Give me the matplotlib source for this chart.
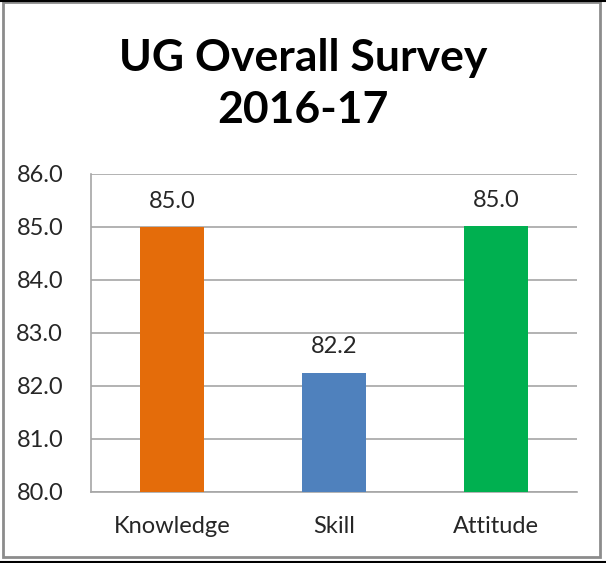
import matplotlib
matplotlib.use("Agg")
import matplotlib.pyplot as plt
from matplotlib.patches import Rectangle

categories = ["Knowledge", "Skill", "Attitude"]
values = [85.0, 82.25, 85.02]
labels = ["85.0", "82.2", "85.0"]
colors = ["#E46C0A", "#4F81BD", "#00B050"]
yticks = [80.0, 81.0, 82.0, 83.0, 84.0, 85.0, 86.0]

W, H = 606, 563
fig = plt.figure(figsize=(W/100, H/100), dpi=100)
plt.rcParams['font.family'] = ['Lato', 'DejaVu Sans']

ax = fig.add_axes([91/W, 1-492/H, (577-91)/W, (492-174)/H])
x = range(len(categories))
ax.bar(x, [v - 80 for v in values], bottom=80, width=0.40, color=colors, zorder=3)
for xi, v, lab in zip(x, values, labels):
    ax.annotate(lab, (xi, v), xytext=(0, 11), textcoords="offset points",
                ha="center", va="bottom", fontsize=17, color="#262626")
ax.set_ylim(80, 86)
ax.set_xlim(-0.5, 2.5)
ax.set_yticks(yticks)
ax.set_yticklabels([f"{t:.1f}" for t in yticks], fontsize=17, color="#262626")
ax.set_xticks(list(x))
ax.set_xticklabels(categories, fontsize=17, color="#262626")
ax.tick_params(axis='y', length=0, pad=20)
ax.tick_params(axis='x', length=0, pad=17)
ax.grid(axis='y', color="#A6A6A6", linewidth=1.2, zorder=0)
for s in ['top', 'right']:
    ax.spines[s].set_visible(False)
for s in ['left', 'bottom']:
    ax.spines[s].set_color("#A6A6A6")
    ax.spines[s].set_linewidth(1.2)

fig.text(0.5, 1-58/H, "UG Overall Survey", ha="center", va="center",
         fontsize=32, fontweight="bold", color="black")
fig.text(0.5, 1-110/H, "2016-17", ha="center", va="center",
         fontsize=32, fontweight="bold", color="black")

fig.patches.append(Rectangle((3/W, 6/H), (600-3)/W, 1-8/H, transform=fig.transFigure,
                             fill=False, edgecolor="#8C8C8C", linewidth=2))
fig.patches.append(Rectangle((0, 1/H), 1, 0, transform=fig.transFigure,
                             fill=False, edgecolor="black", linewidth=1.5))
fig.patches.append(Rectangle((0, 1-1/H), 1, 0, transform=fig.transFigure,
                             fill=False, edgecolor="black", linewidth=1.5))
fig.savefig("out.png", dpi=100)
